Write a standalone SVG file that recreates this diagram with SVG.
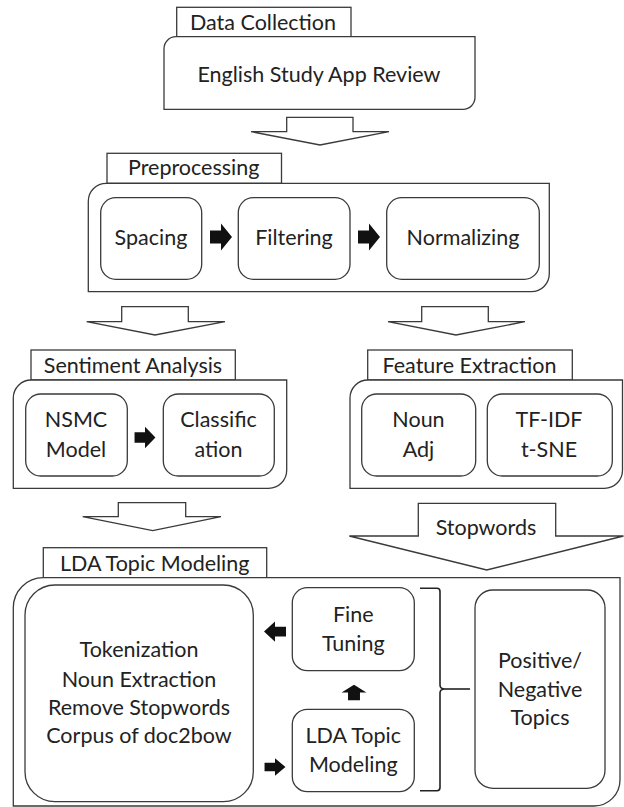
<svg xmlns="http://www.w3.org/2000/svg" width="624" height="807" viewBox="0 0 624 807">
<style>
.b{fill:#fff;stroke:#3a3a3a;stroke-width:1.3}
.t{font-family:Lato,"Liberation Sans",sans-serif;font-size:21.5px;fill:#222;text-anchor:middle}
.a{fill:#111}
.ln{fill:none;stroke:#222;stroke-width:1.6}
</style>
<defs>
<path id="arr" d="M-11,-6.5 H0 V-13.5 L11,0 L0,13.5 V6.5 H-11 Z"/>
</defs>
<rect width="624" height="807" fill="#fff"/>

<g id="data-collection">
<rect class="b" x="176.7" y="7.3" width="174.3" height="29.4"/>
<text class="t" x="263" y="30">Data Collection</text>
<path class="b" d="M176,36.7 H475 V97 A12,12 0 0 1 463,109.3 H164 V48.7 A12,12 0 0 1 176,36.7 Z"/>
<text class="t" x="319" y="81.5">English Study App Review</text>
</g>

<g id="preprocessing">
<rect class="b" x="107" y="153.3" width="174.5" height="30"/>
<text class="t" x="193.7" y="175">Preprocessing</text>
<path class="b" d="M106.3,183.3 H549.3 V273.7 A18,18 0 0 1 531.3,291.7 H88.3 V201.3 A18,18 0 0 1 106.3,183.3 Z"/>
<g id="spacing"><rect class="b" x="100.7" y="197.7" width="101" height="81.6" rx="15"/><text class="t" x="151" y="245">Spacing</text></g>
<g id="filtering"><rect class="b" x="238.3" y="197.7" width="111.7" height="81.6" rx="15"/><text class="t" x="294" y="245">Filtering</text></g>
<g id="normalizing"><rect class="b" x="386.7" y="197.7" width="152.6" height="81.6" rx="15"/><text class="t" x="463" y="245">Normalizing</text></g>
</g>

<g id="sentiment-analysis">
<rect class="b" x="31" y="350" width="204.3" height="30"/>
<text class="t" x="133" y="372.7">Sentiment Analysis</text>
<path class="b" d="M31.3,380 H286.7 V470.3 A18,18 0 0 1 268.7,488.3 H13.3 V398 A18,18 0 0 1 31.3,380 Z"/>
<g id="nsmc"><rect class="b" x="25.7" y="394" width="101.6" height="82" rx="15"/><text class="t" x="76" y="427.3">NSMC</text><text class="t" x="76" y="456.7">Model</text></g>
<g id="classification"><rect class="b" x="163.3" y="394" width="111" height="82" rx="15"/><text class="t" x="218.5" y="427.3">Classific</text><text class="t" x="218.5" y="456.7">ation</text></g>
</g>

<g id="feature-extraction">
<rect class="b" x="367.7" y="350" width="204.6" height="30"/>
<text class="t" x="469.5" y="372.7">Feature Extraction</text>
<path class="b" d="M368,380 H622.5 V470.3 A18,18 0 0 1 604.5,488.3 H350 V398 A18,18 0 0 1 368,380 Z"/>
<g id="noun-adj"><rect class="b" x="361.7" y="394" width="114" height="82" rx="15"/><text class="t" x="418.5" y="427.3">Noun</text><text class="t" x="418.5" y="456.7">Adj</text></g>
<g id="tfidf"><rect class="b" x="487.3" y="394" width="125" height="82" rx="15"/><text class="t" x="549" y="427.3">TF-IDF</text><text class="t" x="549" y="456.7">t-SNE</text></g>
</g>

<g id="lda-topic-modeling">
<rect class="b" x="43.3" y="547.7" width="223.4" height="30"/>
<text class="t" x="154.7" y="571">LDA Topic Modeling</text>
<path class="b" d="M43.3,577.7 H620 V780 A26,26 0 0 1 594,806 H13.3 V607.7 A30,30 0 0 1 43.3,577.7 Z"/>
<g id="tokenization"><rect class="b" x="25" y="585" width="228.3" height="216.7" rx="30"/>
<text class="t" x="139" y="657.3">Tokenization</text>
<text class="t" x="139" y="686.7">Noun Extraction</text>
<text class="t" x="139" y="715">Remove Stopwords</text>
<text class="t" x="139" y="743">Corpus of doc2bow</text></g>
<g id="fine-tuning"><rect class="b" x="292.3" y="587.7" width="122" height="83" rx="15"/><text class="t" x="353.3" y="621.7">Fine</text><text class="t" x="353.3" y="651">Tuning</text></g>
<g id="lda-small"><rect class="b" x="292.3" y="709.3" width="122" height="82.4" rx="15"/><text class="t" x="353.3" y="743.3">LDA Topic</text><text class="t" x="353.3" y="771.7">Modeling</text></g>
<g id="topics"><rect class="b" x="475" y="590" width="130" height="198.3" rx="18"/><text class="t" x="540" y="668.3">Positive/</text><text class="t" x="540" y="696.7">Negative</text><text class="t" x="540" y="725">Topics</text></g>
</g>

<g id="connectors">
<path class="b" d="M286.7,117.3 H353 V131.7 H389 L320,145 L251,131.7 H286.7 Z"/>
<path class="b" d="M121.7,306.7 H188.3 V321.7 H225 L155,335 L86.7,321.7 H121.7 Z"/>
<path class="b" d="M421.7,306.7 H488.3 V321.7 H525 L456,335 L388,321.7 H421.7 Z"/>
<path class="b" d="M118.3,502.7 H185.7 V516.7 H221 L152.7,530.7 L82.7,516.7 H118.3 Z"/>
<path class="b" d="M418.3,503.3 H555.7 V536 H623.5 L486.7,570 L349.3,536 H418.3 Z"/>
<text class="t" x="486" y="535">Stopwords</text>

<use href="#arr" class="a" transform="translate(221,237)"/>
<use href="#arr" class="a" transform="translate(369,237)"/>
<use href="#arr" class="a" transform="translate(145,437.5) scale(0.95,0.8)"/>
<use href="#arr" class="a" transform="translate(275,631.5) rotate(180) scale(1,0.75)"/>
<use href="#arr" class="a" transform="translate(275,767) scale(0.95,0.65)"/>
<use href="#arr" class="a" transform="translate(354,692.5) rotate(-90) scale(0.7,0.92)"/>

<path class="ln" d="M420,588.3 H437 Q440,588.3 440,591.5 V685 Q440,689 445,689 Q440,689 440,693 V787.5 Q440,790.7 437,790.7 H420"/>
<path class="ln" d="M445,689 H470"/>
</g>
</svg>
